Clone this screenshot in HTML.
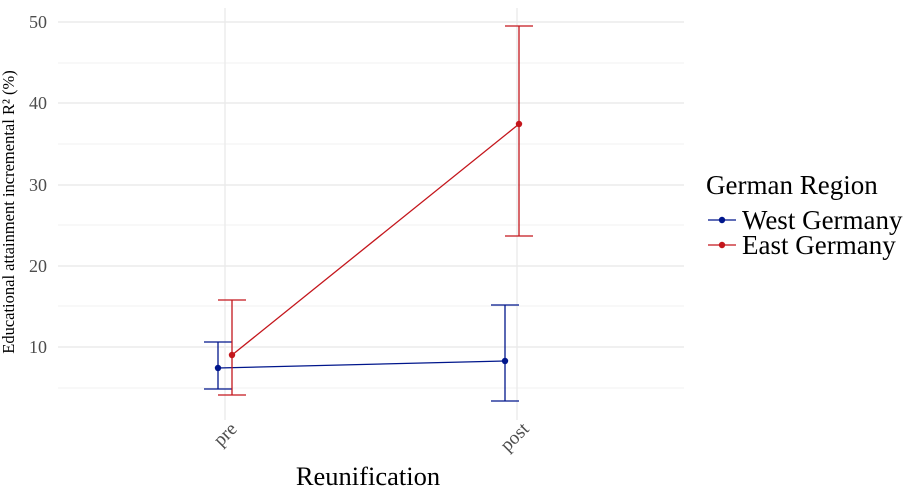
<!DOCTYPE html>
<html><head><meta charset="utf-8"><style>body{margin:0;background:#fff}svg{display:block}</style></head><body>
<svg width="918" height="497" xmlns="http://www.w3.org/2000/svg" font-family="Liberation Serif, serif">
<g stroke="#ebebeb" stroke-width="0.7">
<line x1="58" x2="684" y1="63" y2="63"/><line x1="58" x2="684" y1="144" y2="144"/><line x1="58" x2="684" y1="225" y2="225"/><line x1="58" x2="684" y1="306" y2="306"/><line x1="58" x2="684" y1="388" y2="388"/>
</g>
<g stroke="#ebebeb" stroke-width="1.4">
<line x1="58" x2="684" y1="22" y2="22"/><line x1="58" x2="684" y1="103" y2="103"/><line x1="58" x2="684" y1="185" y2="185"/><line x1="58" x2="684" y1="266" y2="266"/><line x1="58" x2="684" y1="347" y2="347"/>
<line x1="225" x2="225" y1="8" y2="420"/><line x1="517" x2="517" y1="8" y2="420"/>
</g>
<g fill="#4d4d4d" font-size="18" text-anchor="end">
<text x="47" y="28">50</text><text x="47" y="109">40</text><text x="47" y="191">30</text><text x="47" y="272">20</text><text x="47" y="353">10</text>
</g>
<text transform="translate(14,212) rotate(-90)" font-size="16.5" text-anchor="middle">Educational attainment incremental R² (%)</text>
<g fill="#4d4d4d" font-size="19" text-anchor="end">
<text transform="translate(238,430) rotate(-45)">pre</text>
<text transform="translate(530,430) rotate(-45)">post</text>
</g>
<text x="368" y="485" font-size="26.5" text-anchor="middle">Reunification</text>
<g stroke="#00168c" stroke-width="1.3" fill="none">
<line x1="218" x2="218" y1="342" y2="389"/><line x1="204" x2="232" y1="342" y2="342"/><line x1="204" x2="232" y1="389" y2="389"/>
<line x1="505" x2="505" y1="305" y2="401"/><line x1="491" x2="519" y1="305" y2="305"/><line x1="491" x2="519" y1="401" y2="401"/>
<line x1="218" y1="368" x2="505" y2="361"/>
</g>
<g fill="#00168c"><circle cx="218" cy="368" r="3.2"/><circle cx="505" cy="361" r="3.2"/></g>
<g stroke="#c4161c" stroke-width="1.3" fill="none">
<line x1="232" x2="232" y1="300" y2="395"/><line x1="218" x2="246" y1="300" y2="300"/><line x1="218" x2="246" y1="395" y2="395"/>
<line x1="519" x2="519" y1="26" y2="236"/><line x1="505" x2="533" y1="26" y2="26"/><line x1="505" x2="533" y1="236" y2="236"/>
<line x1="232" y1="355" x2="519" y2="124"/>
</g>
<g fill="#c4161c"><circle cx="232" cy="355" r="3.2"/><circle cx="519" cy="124" r="3.2"/></g>
<text x="706" y="194" font-size="27">German Region</text>
<line x1="708" x2="736" y1="220" y2="220" stroke="#00168c" stroke-width="1.3"/><circle cx="722" cy="220" r="3.2" fill="#00168c"/>
<text x="742" y="229" font-size="27">West Germany</text>
<line x1="708" x2="736" y1="245" y2="245" stroke="#c4161c" stroke-width="1.3"/><circle cx="722" cy="245" r="3.2" fill="#c4161c"/>
<text x="742" y="254" font-size="27">East Germany</text>
</svg>
</body></html>
